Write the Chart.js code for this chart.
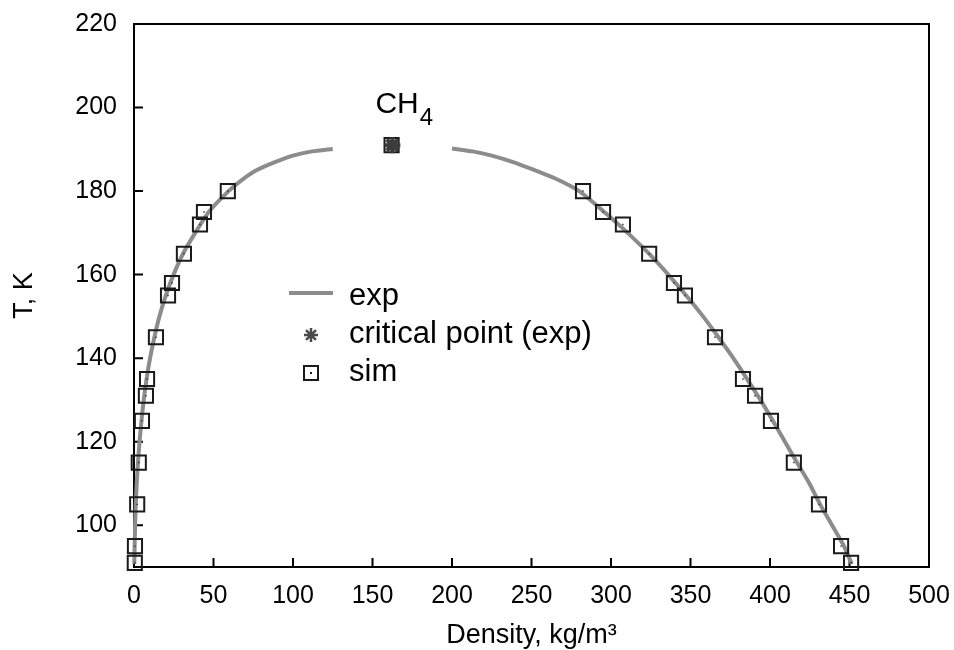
<!DOCTYPE html>
<html>
<head>
<meta charset="utf-8">
<title>CH4 coexistence curve</title>
<script src="https://cdn.jsdelivr.net/npm/chart.js@4.4.0/dist/chart.umd.min.js"></script>
<style>
  html, body { margin: 0; padding: 0; background: #fff; }
  #wrap { width: 954px; height: 650px; }
</style>
</head>
<body>
<div id="wrap"><canvas id="chart" width="954" height="650"></canvas></div>
<script>
// experimental saturation curve, vapour side (T in K, density in kg/m3)
const expVapT = [90.7, 95, 100, 105, 110, 115, 120, 125, 130, 135, 140, 145, 150, 155, 160, 165, 170, 175, 180, 183, 185, 187, 188.5, 189.5, 190.1];
const expVapRho = [0.2, 0.4, 0.7, 1.1, 1.7, 2.5, 3.5, 4.7, 6.1, 7.9, 10.1, 12.8, 16.0, 20.0, 24.9, 30.8, 38.5, 47.0, 59.5, 69, 77, 89, 100, 112, 125];

// experimental saturation curve, liquid side
const expLiqT = [90.7, 95, 100, 105, 110, 115, 120, 125, 130, 135, 140, 145, 150, 155, 160, 165, 170, 175, 180, 183, 185, 187, 188.5, 189.5, 190.2];
const expLiqRho = [451.5, 446.5, 439, 431.5, 424.8, 417, 409.4, 401.8, 394, 385.6, 376.9, 367.6, 357.9, 347.3, 336, 323.9, 310.5, 295.8, 280, 265, 252, 238, 225, 213, 200];

// experimental critical point
const critT = [191];
const critRho = [162.5];

// simulation results (both branches + critical estimate)
const simT = [91, 95, 105, 115, 125, 131, 135, 145, 155, 158, 165, 172, 175, 180,
  191,
  180, 175, 172, 165, 158, 155, 145, 135, 131, 125, 115, 105, 95, 91];
const simRho = [0.5, 0.6, 2, 3, 5, 7.5, 8.2, 13.8, 21.4, 23.9, 31.4, 41.5, 44, 59,
  162,
  282.4, 295, 307.5, 324, 339.6, 346.5, 365.4, 383, 390.6, 400.6, 415, 430.8, 444.7, 451];

// axis ticks
const xTicks = [0, 50, 100, 150, 200, 250, 300, 350, 400, 450, 500];
const yTicks = [100, 120, 140, 160, 180, 200, 220];

const LINE_GREY = "#8c8c8c";
const MARK = "#1a1a1a";
const FONT = "'Liberation Sans', Arial, Helvetica, sans-serif";

function toPoints(xs, ys) {
  return xs.map((x, i) => ({ x: x, y: ys[i] }));
}

/* frame round the plot area and inward ticks on the left and bottom axes */
const framePlugin = {
  id: "frame",
  beforeDatasetsDraw(chart) {
    const { ctx, chartArea: a, scales } = chart;
    ctx.save();
    ctx.strokeStyle = "#000";
    ctx.lineWidth = 2;
    ctx.strokeRect(a.left, a.top, a.right - a.left, a.bottom - a.top);
    ctx.beginPath();
    scales.x.ticks.forEach((t) => {
      const px = scales.x.getPixelForValue(t.value);
      ctx.moveTo(px, a.bottom);
      ctx.lineTo(px, a.bottom - 9);
    });
    scales.y.ticks.forEach((t) => {
      const py = scales.y.getPixelForValue(t.value);
      ctx.moveTo(a.left, py);
      ctx.lineTo(a.left + 9, py);
    });
    ctx.stroke();
    ctx.restore();
  },
};

function drawAsterisk(ctx, x, y, r) {
  ctx.beginPath();
  for (let k = 0; k < 4; k++) {
    const ang = (k * Math.PI) / 4;
    ctx.moveTo(x - r * Math.cos(ang), y - r * Math.sin(ang));
    ctx.lineTo(x + r * Math.cos(ang), y + r * Math.sin(ang));
  }
  ctx.stroke();
}

/* legend inside the plot and the CH4 label above the critical point */
const labelPlugin = {
  id: "labels",
  afterDatasetsDraw(chart) {
    const { ctx, chartArea: a, scales } = chart;
    ctx.save();

    // CH4 label
    const cx = scales.x.getPixelForValue(critRho[0]);
    const cy = scales.y.getPixelForValue(critT[0]);
    ctx.fillStyle = "#000";
    ctx.textBaseline = "alphabetic";
    ctx.textAlign = "left";
    ctx.font = "30px " + FONT;
    ctx.fillText("CH", cx - 17, cy - 32);
    const w = ctx.measureText("CH").width;
    ctx.font = "24px " + FONT;
    ctx.fillText("4", cx - 17 + w + 1, cy - 20);

    // legend
    const lx = a.left + 177;
    const tx = a.left + 215;
    const rows = [a.top + 281, a.top + 319, a.top + 357];

    ctx.strokeStyle = LINE_GREY;
    ctx.lineWidth = 4;
    ctx.beginPath();
    ctx.moveTo(lx - 22, rows[0] - 12);
    ctx.lineTo(lx + 22, rows[0] - 12);
    ctx.stroke();

    ctx.strokeStyle = "#4a4a4a";
    ctx.lineWidth = 2.5;
    drawAsterisk(ctx, lx, rows[1] - 8, 7);

    ctx.strokeStyle = MARK;
    ctx.lineWidth = 2;
    ctx.strokeRect(lx - 7, rows[2] - 15, 14, 14);
    ctx.fillStyle = MARK;
    ctx.fillRect(lx - 1, rows[2] - 9, 2, 2);

    ctx.fillStyle = "#000";
    ctx.font = "31px " + FONT;
    ctx.fillText("exp", tx, rows[0]);
    ctx.fillText("critical point (exp)", tx, rows[1]);
    ctx.fillText("sim", tx, rows[2]);

    ctx.restore();
  },
};

function initChart() {
  const ctx = document.getElementById("chart").getContext("2d");

  const datasets = [
    {
      label: "critical point (exp)",
      data: toPoints(critRho, critT),
      pointStyle: "star",
      pointRadius: 8,
      borderColor: "#3c3c3c",
      borderWidth: 4,
      showLine: false,
      clip: false,
    },
    {
      label: "sim centre",
      data: toPoints(simRho, simT),
      pointStyle: "rect",
      pointRadius: 1,
      backgroundColor: "#333",
      borderColor: "#333",
      borderWidth: 0,
      showLine: false,
      clip: false,
    },
    {
      label: "sim",
      data: toPoints(simRho, simT),
      pointStyle: "rect",
      pointRadius: 10,
      backgroundColor: "rgba(0,0,0,0)",
      borderColor: MARK,
      borderWidth: 2,
      showLine: false,
      clip: false,
    },
    {
      label: "exp",
      data: toPoints(expVapRho, expVapT),
      showLine: true,
      borderColor: LINE_GREY,
      borderWidth: 4,
      pointRadius: 0,
      tension: 0.2,
      clip: false,
    },
    {
      label: "exp",
      data: toPoints(expLiqRho, expLiqT),
      showLine: true,
      borderColor: LINE_GREY,
      borderWidth: 4,
      pointRadius: 0,
      tension: 0.2,
      clip: false,
    },
  ];

  new Chart(ctx, {
    type: "scatter",
    data: { datasets: datasets },
    options: {
      responsive: false,
      animation: false,
      events: [],
      layout: { padding: { top: 24, right: 25, left: 0, bottom: 0 } },
      plugins: { legend: { display: false }, tooltip: { enabled: false } },
      scales: {
        x: {
          type: "linear",
          min: 0,
          max: 500,
          afterBuildTicks: (s) => { s.ticks = xTicks.map((v) => ({ value: v })); },
          afterFit: (s) => {
            s.height = 83;
            s.paddingLeft = 0;
            s.paddingRight = 0;
          },
          grid: { display: false, drawTicks: false },
          border: { display: false },
          ticks: { color: "#000", font: { family: FONT, size: 25 }, padding: 14, maxRotation: 0, autoSkip: false },
          title: {
            display: true,
            text: "Density, kg/m³",
            color: "#000",
            font: { family: FONT, size: 27, lineHeight: 1 },
            padding: { top: 0, bottom: 1 },
          },
        },
        y: {
          type: "linear",
          min: 90,
          max: 220,
          afterBuildTicks: (s) => { s.ticks = yTicks.map((v) => ({ value: v })); },
          afterFit: (s) => {
            s.width = 134;
            s.paddingTop = 0;
            s.paddingBottom = 0;
          },
          grid: { display: false, drawTicks: false },
          border: { display: false },
          ticks: { color: "#000", font: { family: FONT, size: 25 }, padding: 17, autoSkip: false },
          title: {
            display: true,
            text: "T, K",
            color: "#000",
            font: { family: FONT, size: 27, lineHeight: 1 },
            padding: { top: 11, bottom: 0 },
          },
        },
      },
    },
    plugins: [framePlugin, labelPlugin],
  });
}

initChart();
</script>
</body>
</html>
